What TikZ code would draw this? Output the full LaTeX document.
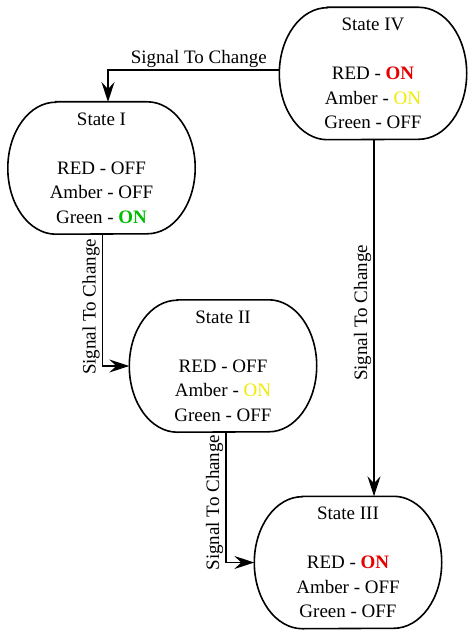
\documentclass[tikz,border=0pt]{standalone}
\usepackage{fontspec}
\setmainfont{Liberation Serif}
\usetikzlibrary{arrows.meta}
\definecolor{onred}{RGB}{230,0,0}
\definecolor{onamber}{RGB}{240,235,0}
\definecolor{ongreen}{RGB}{0,190,0}
\newcommand{\redon}{\textcolor{onred}{\textbf{ON}}}
\newcommand{\amberon}{\textcolor{onamber}{ON}}
\newcommand{\greenon}{\textcolor{ongreen}{\textbf{ON}}}
\begin{document}
\begin{tikzpicture}[x=1pt,y=-1pt,
  statebox/.style={minimum width=187pt,minimum height=132pt,inner sep=0pt,align=center,
    font=\fontsize{19}{24.5}\selectfont},
  link/.style={line width=1.6pt,-{Stealth[length=20pt,width=13pt,inset=7pt]}},
  lbl/.style={font=\fontsize{19}{22}\selectfont,inner sep=2pt}]
 \useasboundingbox (0,0) rectangle (475,639);
 \node[statebox](IV) at (373,73.5){State IV\\[24.5pt]RED - \redon\\Amber - \amberon\\Green - OFF};
 \node[statebox](I) at (101.5,168){State I\\[24.5pt]RED - OFF\\Amber - OFF\\Green - \greenon};
 \node[statebox](II) at (223,366){State II\\[24.5pt]RED - OFF\\Amber - \amberon\\Green - OFF};
 \node[statebox](III) at (348,562.5){State III\\[24.5pt]RED - \redon\\Amber - OFF\\Green - OFF};
 \foreach \s in {I,II,III,IV}
  \draw[line width=1.6pt]([xshift=48pt]\s.north west)--([xshift=-48pt]\s.north east)
   arc[start angle=90,end angle=-90,x radius=48pt,y radius=66pt]
   --([xshift=48pt]\s.south west)
   arc[start angle=270,end angle=90,x radius=48pt,y radius=66pt]--cycle;
 \draw[link](IV.west|-0,70)-|node[lbl,pos=0.235,above]{Signal To Change}(108,102);
 \draw[link](I.south-|102.5,0)|-node[lbl,pos=0.276,rotate=90,anchor=south]{Signal To Change}(II.west);
 \draw[link](II.south-|226,0)|-node[lbl,pos=0.27,rotate=90,anchor=south]{Signal To Change}(III.west);
 \draw[link](IV.south-|374,0)--node[lbl,pos=0.486,rotate=90,anchor=south]{Signal To Change}(III.north-|374,0);
\end{tikzpicture}
\end{document}
